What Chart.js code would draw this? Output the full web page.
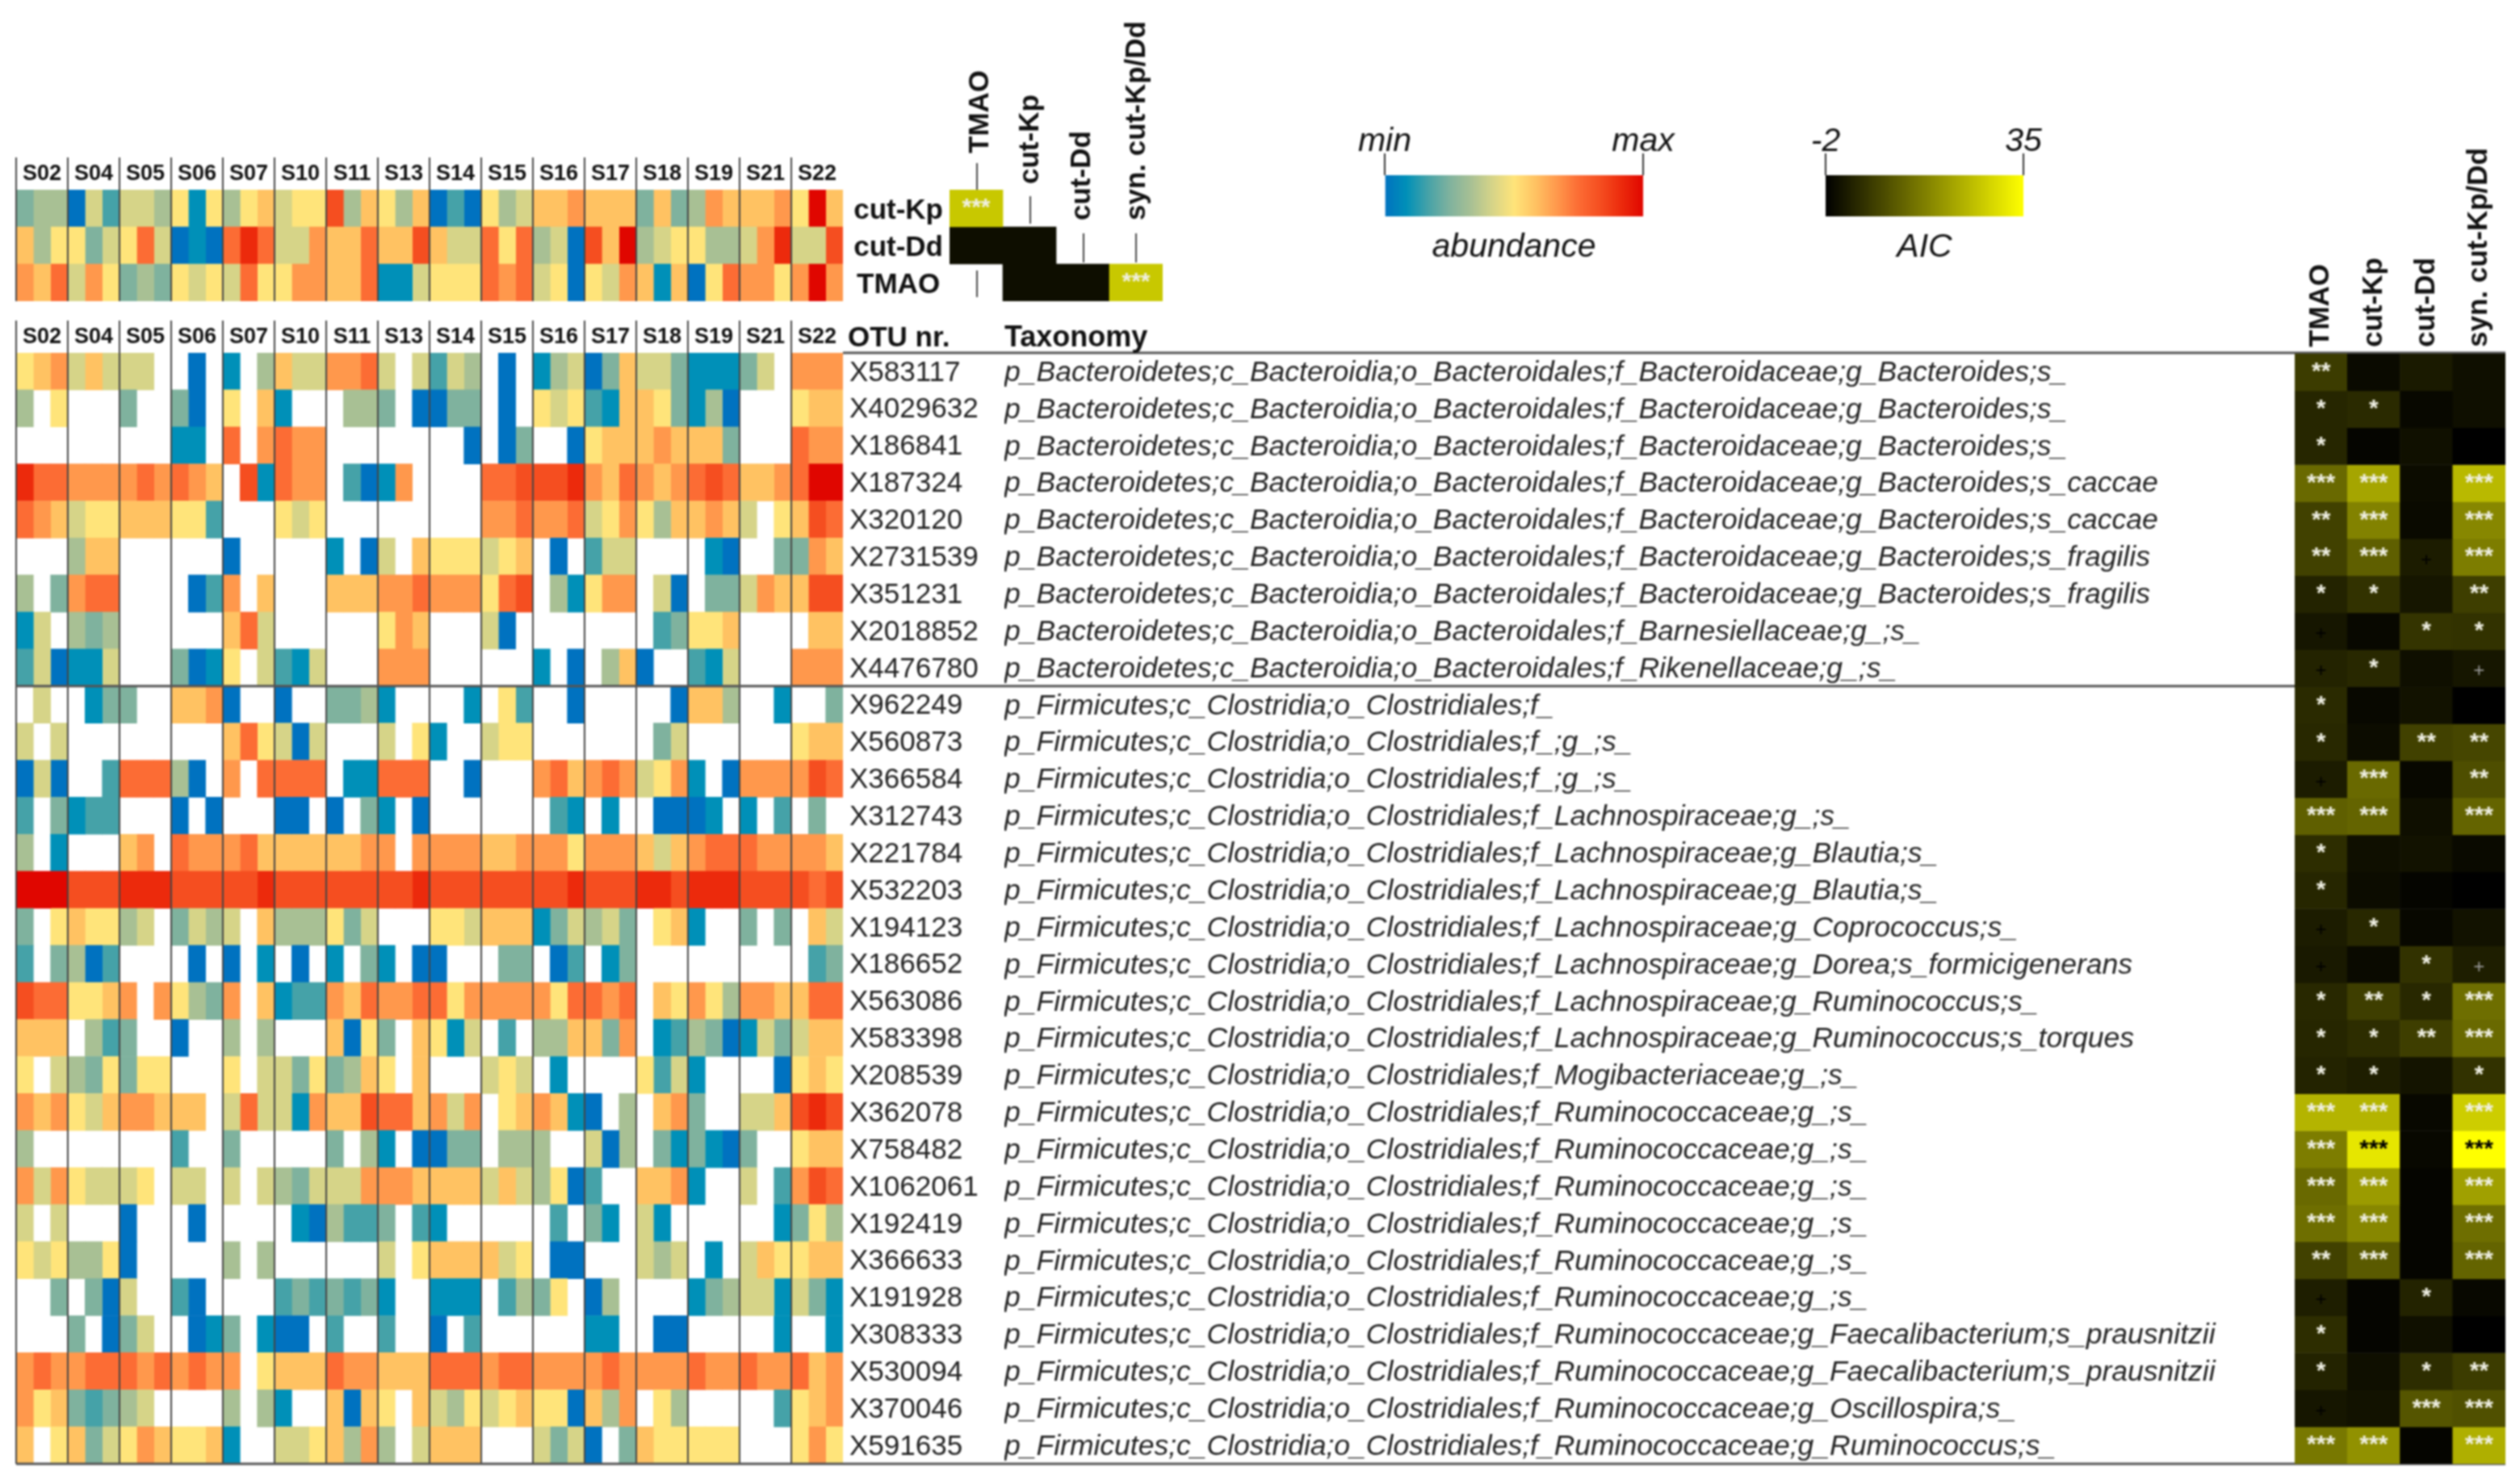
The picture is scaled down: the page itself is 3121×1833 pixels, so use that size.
<!DOCTYPE html>
<html>
<head>
<meta charset="utf-8">
<title>OTU heatmap</title>
<script src="https://cdn.jsdelivr.net/npm/chart.js@4/dist/chart.umd.js"></script>
<style>
    html, body { margin: 0; padding: 0; background: #fff; }
    #page { position: relative; width: 3121px; height: 1833px; overflow: hidden; filter: blur(0.9px); }
    #page canvas { position: absolute; }
    .txt { position: absolute; font-family: "Liberation Sans", sans-serif; color: #111; white-space: nowrap; line-height: 1; }
    .tick { position: absolute; width: 2px; background: #444; }
</style>
</head>
<body>
<div id="page"></div>
<script>
const _ = null;

const sampleNames = ['S02', 'S04', 'S05', 'S06', 'S07', 'S10', 'S11', 'S13', 'S14', 'S15', 'S16', 'S17', 'S18', 'S19', 'S21', 'S22'];
const phenotypes = ['cut-Kp', 'cut-Dd', 'TMAO'];
const aicColumns = ['TMAO', 'cut-Kp', 'cut-Dd', 'syn. cut-Kp/Dd'];

const otuIds = ['X583117', 'X4029632', 'X186841', 'X187324', 'X320120', 'X2731539', 'X351231', 'X2018852', 'X4476780',
    'X962249', 'X560873', 'X366584', 'X312743', 'X221784', 'X532203', 'X194123', 'X186652', 'X563086', 'X583398', 'X208539',
    'X362078', 'X758482', 'X1062061', 'X192419', 'X366633', 'X191928', 'X308333', 'X530094', 'X370046', 'X591635'];

const bact = 'p_Bacteroidetes;c_Bacteroidia;o_Bacteroidales;';
const clos = 'p_Firmicutes;c_Clostridia;o_Clostridiales;';
const taxonomy = [
    bact + 'f_Bacteroidaceae;g_Bacteroides;s_',
    bact + 'f_Bacteroidaceae;g_Bacteroides;s_',
    bact + 'f_Bacteroidaceae;g_Bacteroides;s_',
    bact + 'f_Bacteroidaceae;g_Bacteroides;s_caccae',
    bact + 'f_Bacteroidaceae;g_Bacteroides;s_caccae',
    bact + 'f_Bacteroidaceae;g_Bacteroides;s_fragilis',
    bact + 'f_Bacteroidaceae;g_Bacteroides;s_fragilis',
    bact + 'f_Barnesiellaceae;g_;s_',
    bact + 'f_Rikenellaceae;g_;s_',
    clos + 'f_',
    clos + 'f_;g_;s_',
    clos + 'f_;g_;s_',
    clos + 'f_Lachnospiraceae;g_;s_',
    clos + 'f_Lachnospiraceae;g_Blautia;s_',
    clos + 'f_Lachnospiraceae;g_Blautia;s_',
    clos + 'f_Lachnospiraceae;g_Coprococcus;s_',
    clos + 'f_Lachnospiraceae;g_Dorea;s_formicigenerans',
    clos + 'f_Lachnospiraceae;g_Ruminococcus;s_',
    clos + 'f_Lachnospiraceae;g_Ruminococcus;s_torques',
    clos + 'f_Mogibacteriaceae;g_;s_',
    clos + 'f_Ruminococcaceae;g_;s_',
    clos + 'f_Ruminococcaceae;g_;s_',
    clos + 'f_Ruminococcaceae;g_;s_',
    clos + 'f_Ruminococcaceae;g_;s_',
    clos + 'f_Ruminococcaceae;g_;s_',
    clos + 'f_Ruminococcaceae;g_;s_',
    clos + 'f_Ruminococcaceae;g_Faecalibacterium;s_prausnitzii',
    clos + 'f_Ruminococcaceae;g_Faecalibacterium;s_prausnitzii',
    clos + 'f_Ruminococcaceae;g_Oscillospira;s_',
    clos + 'f_Ruminococcaceae;g_Ruminococcus;s_'
];

// abundance levels, 0 = min .. 12 = max, _ = absent. three cells per sample
const phenotypeLevels = [
    [3,4,4, 0,5,2, 5,5,4, 6,1,6, 4,6,7, 5,6,6, 10,4,7, 6,4,7, 0,2,0, 6,4,5, 7,7,8, 7,7,7, 3,7,3, 4,8,7, 7,7,8, 6,12,7],
    [7,4,6, 6,3,5, 6,9,5, 0,1,0, 9,11,9, 5,5,8, 7,7,9, 7,7,10, 7,5,5, 9,6,9, 4,5,0, 10,7,12, 4,5,6, 6,4,4, 5,8,11, 5,5,10],
    [8,7,9, 5,8,6, 3,4,3, 6,5,6, 5,9,6, 6,8,8, 7,7,9, 1,1,5, 6,6,6, 9,8,9, 5,6,0, 6,5,8, 7,1,7, 0,6,9, 8,8,6, 8,12,8]
];

const otuLevels = [
    [6,7,8, 5,7,5, 5,5,_, _,0,_, 1,_,4, 7,5,5, 8,8,9, 5,_,5, 2,5,4, _,0,_, 1,4,5, 0,3,7, 5,5,3, 1,1,1, 3,5,_, 8,8,8],
    [4,_,6, _,_,_, 3,_,_, 3,0,_, 6,_,7, 1,_,_, _,4,4, 3,_,0, 0,3,3, _,0,_, 6,5,6, 2,1,7, 7,6,3, 1,4,0, _,_,_, 6,7,7],
    [_,_,_, _,_,_, _,_,_, 1,1,_, 9,_,8, 9,8,8, _,_,_, _,_,_, _,_,0, _,0,3, _,_,0, 6,7,7, 7,8,7, 7,7,3, _,_,_, 9,8,8],
    [11,9,9, 8,8,8, 8,9,8, 9,8,7, _,10,1, 9,8,8, _,2,0, 1,8,_, _,_,_, 9,9,10, 10,10,11, 8,7,9, 8,7,8, 9,10,9, 7,7,8, 9,12,12],
    [9,8,7, 5,6,6, 7,7,7, 6,6,2, _,_,_, 6,5,6, _,_,_, _,_,_, _,_,_, 8,8,9, 8,8,9, 5,6,8, 6,4,7, 7,8,7, 5,_,6, 7,10,9],
    [_,_,_, 4,7,7, _,_,_, _,_,_, 0,_,_, _,_,_, 1,_,0, 5,_,7, 6,6,6, 5,6,7, _,0,_, 2,5,5, _,_,_, _,1,0, _,_,3, 3,8,7],
    [4,_,3, 8,9,9, _,_,_, _,0,2, 8,_,7, _,_,_, 7,7,7, 8,8,9, 8,8,8, 6,9,10, _,4,1, 6,8,8, _,5,0, _,3,3, 5,8,7, 7,10,10],
    [1,5,_, 4,3,4, _,_,_, _,_,_, 7,9,5, _,_,_, _,_,_, 6,8,7, _,_,_, 5,0,_, _,_,_, _,_,_, _,2,3, 6,6,7, _,_,_, _,7,7],
    [2,5,0, 1,1,5, _,_,_, 3,0,1, 6,_,5, 2,1,5, _,_,_, 8,8,8, _,_,_, _,_,_, 1,_,0, _,4,7, 0,_,_, 2,1,5, _,_,_, 8,8,8],
    [_,5,_, _,1,3, 3,_,_, 7,7,8, 0,_,_, 0,_,_, 3,3,4, 1,_,_, _,_,1, _,6,2, _,_,0, _,_,_, _,_,0, 7,7,4, _,_,1, _,_,3],
    [5,_,5, _,_,_, _,_,_, _,_,_, 7,9,6, 5,0,5, _,_,_, 5,_,6, 1,_,_, 5,6,6, _,_,_, _,_,_, _,3,5, _,_,_, _,_,_, 6,7,7],
    [0,5,0, _,_,2, 9,9,9, 4,0,_, 8,_,9, 9,9,9, _,1,1, 9,9,9, _,_,0, _,_,_, 8,9,7, 8,9,8, 5,6,8, 1,_,0, 8,8,8, 8,10,9],
    [2,_,3, 1,2,2, _,_,_, 0,_,0, _,_,_, 0,0,_, 0,_,3, 1,_,0, _,_,_, _,_,_, _,2,1, _,1,_, _,0,0, 0,1,_, 1,_,2, _,3,_],
    [4,_,1, _,_,_, 7,8,_, 9,8,8, 8,9,7, 7,7,7, 7,7,8, 8,_,8, 8,8,8, 7,7,8, 8,8,6, 8,8,8, 7,5,7, 8,9,9, 9,8,8, 8,8,7],
    [12,12,12, 10,10,10, 11,11,11, 10,10,10, 10,10,11, 10,10,10, 10,10,10, 10,10,11, 10,10,10, 10,10,10, 10,10,11, 10,10,10, 11,11,10, 11,11,11, 10,10,10, 10,9,10],
    [3,_,6, 7,6,6, 4,5,_, 3,5,4, 5,_,7, 4,4,4, 6,3,5, _,_,_, 6,6,5, 7,7,7, 1,3,5, 4,5,3, _,6,7, 1,_,_, 3,_,3, _,7,5],
    [2,_,3, 4,0,2, _,_,_, _,0,_, 0,_,1, _,0,_, 1,_,3, 1,_,0, 0,_,_, _,3,3, _,0,2, _,1,3, _,_,_, _,_,_, _,_,_, _,2,3],
    [10,9,9, 6,6,7, 8,_,8, 6,4,3, 8,_,7, 1,2,2, 8,7,9, 8,8,9, 9,6,8, 8,8,8, 8,6,9, 9,8,9, _,7,6, 8,6,4, 8,8,7, 7,9,9],
    [7,7,7, _,4,2, 3,_,_, 0,_,_, 4,_,4, _,_,_, 7,0,6, 3,_,7, 6,1,5, _,2,_, 4,4,7, 7,3,8, _,1,2, 4,3,0, 1,5,3, 5,7,7],
    [6,_,5, 4,3,6, 3,6,6, _,_,_, 6,_,5, 5,3,6, 3,4,7, 6,_,7, _,_,_, 5,6,5, _,1,_, _,_,_, 6,2,5, 1,_,_, _,_,0, 6,7,6],
    [8,7,8, 6,5,7, 8,8,7, 7,7,_, 5,9,5, 5,1,8, 7,7,10, 9,9,7, 8,5,8, _,6,7, 8,7,1, 0,_,4, _,7,8, 3,_,_, 5,5,7, 10,11,10],
    [4,_,_, _,_,_, _,_,_, 2,_,_, 3,_,_, _,_,_, 3,_,4, 1,_,0, 0,3,3, _,4,4, 4,_,_, 5,0,4, _,3,1, 3,1,0, 3,_,_, 6,7,7],
    [8,5,8, 6,5,5, 5,6,_, 5,5,_, 5,_,5, 4,3,5, 5,5,8, 8,8,7, 7,7,7, 5,7,5, 4,6,0, 2,_,_, 7,7,8, 1,_,_, 5,_,2, 8,10,9],
    [5,_,5, _,_,_, 0,_,_, _,0,_, _,_,_, _,1,0, 4,2,2, 3,_,2, 1,_,_, _,_,_, _,2,_, 3,1,_, 5,1,_, _,_,_, _,_,1, 3,6,4],
    [6,5,6, 4,4,6, 0,_,_, _,_,_, 4,_,4, _,_,_, _,_,_, 5,_,6, 7,7,7, 7,5,6, _,0,0, _,_,_, 5,4,5, _,1,_, 5,7,6, 6,7,7],
    [_,_,3, _,3,0, 5,_,_, 2,0,_, _,_,_, 2,3,2, 3,2,3, 1,_,_, 1,1,1, _,2,4, 3,6,_, 0,4,_, _,_,_, 1,3,4, 5,5,1, 5,3,1],
    [_,_,_, 3,_,0, 3,5,_, _,0,1, 3,_,1, 0,0,_, 2,_,_, 2,_,_, 0,_,2, _,_,_, _,_,_, 1,1,_, _,0,0, _,_,_, _,_,1, _,_,1],
    [8,9,8, 8,9,9, 9,8,9, 8,9,8, 8,_,6, 7,7,7, 9,8,8, 7,7,7, 9,9,9, 8,9,9, 8,8,8, 8,9,8, 8,8,8, 9,8,8, 9,8,8, 9,7,8],
    [8,6,7, 3,2,3, 4,5,_, _,_,_, 4,_,4, 1,_,_, 7,0,7, 6,_,7, 5,4,6, 5,6,7, 6,6,0, 7,4,8, _,6,4, _,_,_, _,_,2, 6,7,8],
    [7,_,6, 7,3,5, 6,8,7, 6,6,7, 1,_,_, 5,5,6, 7,4,8, 4,_,5, 7,7,7, _,_,_, 5,3,5, 0,_,3, 7,6,6, 6,6,6, _,_,_, 6,8,6]
];

// AIC per OTU, columns as in aicColumns
const otuAic = [
    [6.7,-0.5,1.8,0.2], [3.5,4.1,-0.8,0.2], [3.5,-1.3,0.3,-2], [13.2,21.9,-0.3,24.8], [7.4,16.9,-0.5,17.6],
    [7.4,11.8,2.1,16.1], [3.1,5.3,1.2,7], [1.2,-0.8,5.5,5.3], [3.1,3.8,0.2,1.2],
    [4.1,-0.8,0.6,-2], [3.8,-0.3,7.4,8.2], [2.1,13.2,-0.8,9.3], [11.8,12.5,0.2,12.5], [4.5,0.2,0.6,-0.5],
    [3.5,-0.3,-1.3,-2], [2.1,3.8,-0.8,0.6], [1.6,-0.5,5.3,2.4], [3.8,7,3.8,14], [3.5,4.5,7,13.2], [3.1,2.4,0.9,5.3],
    [24.1,24.1,-0.8,27.7], [16.1,31.4,-0.8,35], [13.2,20.5,-1.3,21.2], [14,17.6,-1.3,14], [7.4,11.1,-1.3,12.5],
    [2.4,-1.3,3.1,-0.8], [4.5,-1.3,0.3,-2], [3.1,0.2,4.5,6.7], [1.2,0.6,10.3,9.6], [15.4,19,-1.3,23.4]
];
const otuStars = [
    ['**','','',''], ['*','*','',''], ['*','','',''], ['***','***','','***'], ['**','***','','***'],
    ['**','***','+','***'], ['*','*','','**'], ['+','','*','*'], ['+','*','','+'],
    ['*','','',''], ['*','','**','**'], ['+','***','','**'], ['***','***','','***'], ['*','','',''],
    ['*','','',''], ['+','*','',''], ['+','','*','+'], ['*','**','*','***'], ['*','*','**','***'], ['*','*','','*'],
    ['***','***','','***'], ['***','***','','***'], ['***','***','','***'], ['***','***','','***'], ['**','***','','***'],
    ['+','','*',''], ['*','','',''], ['*','','*','**'], ['+','','***','***'], ['***','***','','***']
];

const phenotypeAic = [[27,_,_,_], [0,0,_,_], [_,0,0,27]];
const phenotypeStars = [['***','','',''], ['','','',''], ['','','','***']];

const separatorRows = [0, 9, 30];

const abundancePalette = ['#0072c0', '#0090b8', '#45a2a8', '#7fb29e', '#a8c094', '#d6d488', '#ffe47a',
    '#ffc262', '#ff984c', '#fc6c34', '#f54e20', '#ec2a0c', '#e00600'];
const aicMin = -2;
const aicMax = 35;

const FONT = '"Liberation Sans", sans-serif';
const page = document.getElementById('page');
Chart.defaults.font.family = FONT;
Chart.defaults.color = '#111';

function panel(left, top, width, height) {
    const canvas = document.createElement('canvas');
    canvas.width = width;
    canvas.height = height;
    canvas.style.left = left + 'px';
    canvas.style.top = top + 'px';
    canvas.style.width = width + 'px';
    canvas.style.height = height + 'px';
    page.appendChild(canvas);
    return canvas;
}

function addText(text, x, y, size, style) {
    const el = document.createElement('div');
    el.className = 'txt';
    el.textContent = text;
    el.style.left = x + 'px';
    el.style.top = y + 'px';
    el.style.fontSize = size + 'px';
    el.style.cssText += style || '';
    page.appendChild(el);
}

function addTick(x, y1, y2) {
    const el = document.createElement('div');
    el.className = 'tick';
    el.style.left = x + 'px';
    el.style.top = y1 + 'px';
    el.style.height = (y2 - y1) + 'px';
    page.appendChild(el);
}

// scale size is forced, labels must not push the chart area around
function fixHeight(h) {
    return scale => {
        scale.height = h;
        scale.paddingLeft = scale.paddingRight = 0;
    };
}
function fixWidth(w) {
    return scale => {
        scale.width = w;
        scale.paddingTop = scale.paddingBottom = 0;
    };
}

function aicColor(v) {
    const b = Math.round((v - aicMin) / (aicMax - aicMin) * 255);
    return `rgb(${b},${b},0)`;
}

// sample heatmap: floating horizontal bars, one dataset per cell column
function heatmap(canvas, rows, yScales, padding, plugins) {
    const datasets = rows[0].map((unused, c) => ({
        data: rows.map(row => row[c] === null ? null : [c, c + 1]),
        backgroundColor: rows.map(row => row[c] === null ? 'transparent' : abundancePalette[row[c]]),
        barPercentage: 1,
        categoryPercentage: 1,
        grouped: false
    }));
    return new Chart(canvas, {
        type: 'bar',
        data: {labels: otuLevels === rows ? otuIds : phenotypes, datasets},
        plugins: plugins || [],
        options: {
            indexAxis: 'y',
            responsive: false,
            animation: false,
            devicePixelRatio: 1,
            layout: {padding},
            plugins: {legend: {display: false}, tooltip: {enabled: false}},
            scales: Object.assign({
                x: {
                    type: 'linear',
                    position: 'top',
                    min: 0,
                    max: 48,
                    afterFit: fixHeight(44),
                    border: {display: false},
                    grid: {color: '#444', lineWidth: 2, tickLength: 40, z: 1},
                    ticks: {
                        stepSize: 3,
                        autoSkip: false,
                        maxRotation: 0,
                        minRotation: 0,
                        padding: -37,
                        labelOffset: 32,
                        font: {size: 27, weight: 'bold'},
                        callback: value => sampleNames[value / 3]
                    }
                }
            }, yScales)
        }
    });
}

// AIC cells with the significance marks on top
const starsPlugin = {
    id: 'stars',
    afterDatasetsDraw(chart, args, opts) {
        const ctx = chart.ctx;
        ctx.save();
        ctx.textAlign = 'center';
        ctx.textBaseline = 'middle';
        chart.data.datasets.forEach((ds, r) => {
            chart.getDatasetMeta(r).data.forEach((bar, c) => {
                const mark = opts.marks[r][c];
                if (!mark) return;
                const cy = (bar.y + bar.base) / 2;
                if (mark === '+') {
                    ctx.font = '24px ' + FONT;
                    ctx.fillStyle = c === 3 ? '#999' : '#000';
                    ctx.fillText(mark, bar.x, cy + 4);
                } else {
                    ctx.font = 'bold 30px ' + FONT;
                    ctx.fillStyle = opts.values[r][c] > 30 ? '#000' : '#f0f0e4';
                    ctx.fillText(mark, bar.x, cy);
                }
            });
        });
        ctx.restore();
    }
};

function aicChart(canvas, values, marks, xScale, yExtra, padding) {
    const datasets = values.map((row, r) => ({
        data: row.map(v => v === null ? null : [r, r + 1]),
        backgroundColor: row.map(v => v === null ? 'transparent' : aicColor(v)),
        barPercentage: 1,
        categoryPercentage: 1,
        grouped: false
    }));
    return new Chart(canvas, {
        type: 'bar',
        data: {labels: aicColumns, datasets},
        plugins: [starsPlugin],
        options: {
            responsive: false,
            animation: false,
            devicePixelRatio: 1,
            layout: {padding},
            plugins: {legend: {display: false}, tooltip: {enabled: false}, stars: {marks, values}},
            scales: {
                x: xScale,
                y: Object.assign({type: 'linear', reverse: true, min: 0, max: values.length}, yExtra)
            }
        }
    });
}

function colorBar(canvas, min, max, names, stops, title, barSide) {
    return new Chart(canvas, {
        type: 'bar',
        data: {
            labels: [''],
            datasets: [{
                data: [[min, max]],
                barPercentage: 1,
                categoryPercentage: 1,
                backgroundColor: ctx => {
                    const area = ctx.chart.chartArea;
                    if (!area) return stops[0];
                    const g = ctx.chart.ctx.createLinearGradient(area.left, 0, area.right, 0);
                    stops.forEach((s, i) => g.addColorStop(i / (stops.length - 1), s));
                    return g;
                }
            }]
        },
        options: {
            indexAxis: 'y',
            responsive: false,
            animation: false,
            devicePixelRatio: 1,
            layout: {padding: {left: barSide, right: barSide}},
            plugins: {
                legend: {display: false},
                tooltip: {enabled: false},
                title: {display: true, position: 'bottom', text: title, color: '#111',
                    font: {size: 41, style: 'italic', weight: 'normal', lineHeight: 1}, padding: {top: 18, bottom: 0}}
            },
            scales: {
                x: {
                    type: 'linear',
                    position: 'top',
                    min,
                    max,
                    afterFit: fixHeight(62),
                    afterBuildTicks: scale => { scale.ticks = [{value: min}, {value: max}]; },
                    border: {display: false},
                    grid: {drawOnChartArea: false, color: '#333', lineWidth: 2, tickLength: 27},
                    ticks: {
                        autoSkip: false,
                        maxRotation: 0,
                        padding: -10,
                        font: {size: 41, style: 'italic'},
                        callback: value => names[value === min ? 0 : 1]
                    }
                },
                y: {display: false}
            }
        }
    });
}

// horizontal rules running from the heatmap over the taxonomy to the AIC panel
const rulesPlugin = {
    id: 'rules',
    afterDraw(chart) {
        const ctx = chart.ctx;
        const area = chart.chartArea;
        const y = chart.scales.y;
        ctx.save();
        ctx.strokeStyle = '#555';
        ctx.lineWidth = 3;
        separatorRows.forEach(row => {
            const py = y.getPixelForValue(row - 0.5);
            ctx.beginPath();
            ctx.moveTo(row === 0 ? area.right : area.left, py);
            ctx.lineTo(3103, py);
            ctx.stroke();
        });
        ctx.restore();
    }
};

// top heatmap, phenotypes per sample
heatmap(panel(0, 191, 1060, 182), phenotypeLevels, {
    y: {display: false}
}, {left: 20, right: 16});

// main heatmap with OTU and taxonomy as two stacked right axes
heatmap(panel(0, 393, 3121, 1440), otuLevels, {
    y: {
        position: 'right',
        weight: 0,
        afterFit: fixWidth(200),
        border: {display: false},
        grid: {display: false, drawTicks: false},
        ticks: {crossAlign: 'near', padding: 8, labelOffset: 2, autoSkip: false, font: {size: 35}, color: '#222'}
    },
    y2: {
        type: 'category',
        position: 'right',
        weight: 1,
        labels: taxonomy,
        offset: true,
        afterFit: fixWidth(1877),
        border: {display: false},
        grid: {display: false, drawTicks: false},
        ticks: {crossAlign: 'near', padding: 0, labelOffset: 2, autoSkip: false, font: {size: 35.5, style: 'italic'}, color: '#222'}
    }
}, {left: 20, bottom: 20}, [rulesPlugin]);

// AIC panel right
aicChart(panel(2842, 165, 261, 1648), otuAic, otuStars, {
    position: 'top',
    offset: true,
    afterFit: fixHeight(273),
    border: {display: false},
    grid: {display: false, drawTicks: false},
    ticks: {minRotation: 90, maxRotation: 90, autoSkip: false, padding: 8, labelOffset: 42, font: {size: 35, weight: 'bold'}}
}, {display: false}, 0);

// small AIC triangle between phenotypes
aicChart(panel(1050, 235, 390, 138), phenotypeAic, phenotypeStars, {display: false, offset: true}, {
    position: 'left',
    afterFit: fixWidth(126),
    afterBuildTicks: scale => { scale.ticks = phenotypes.map((p, i) => ({value: i + 0.5})); },
    border: {display: false},
    grid: {display: false, drawTicks: false},
    ticks: {
        autoSkip: false,
        crossAlign: 'center',
        padding: 8,
        labelOffset: 3,
        font: {size: 35, weight: 'bold'},
        callback: value => phenotypes[value - 0.5]
    }
}, 0);

// labels of the small triangle stand at different heights
const rotated = 'font-weight:bold;transform-origin:0 0;transform:rotate(-90deg);';
addText('TMAO', 1194, 190, 35, rotated);
addText('cut-Kp', 1256, 228, 35, rotated);
addText('cut-Dd', 1320, 273, 35, rotated);
addText('syn. cut-Kp/Dd', 1388, 273, 35, rotated);
addTick(1209, 202, 235);
addTick(1209, 335, 368);
addTick(1275, 243, 277);
addTick(1341, 289, 325);
addTick(1406, 289, 325);

addText('OTU nr.', 1050, 399, 35, 'font-weight:bold;');
addText('Taxonomy', 1244, 399, 36, 'font-weight:bold;');

colorBar(panel(1645, 155, 460, 172), 0, 1, ['min', 'max'], abundancePalette, 'abundance', 70);
colorBar(panel(2191, 155, 385, 172), aicMin, aicMax, ['-2', '35'], ['#000000', '#ffff00'], 'AIC', 70);
</script>
</body>
</html>
